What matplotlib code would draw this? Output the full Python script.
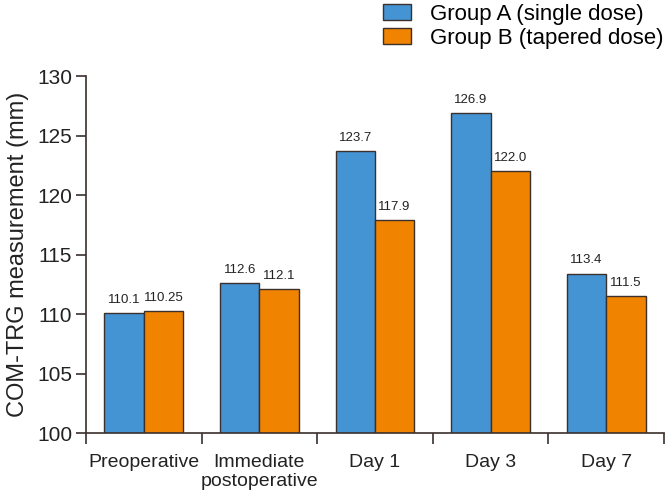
import numpy as np
import matplotlib
matplotlib.use('Agg')
import matplotlib.pyplot as plt

plt.rcParams['font.family'] = ['Liberation Sans', 'DejaVu Sans']

categories = ["Preoperative", "Immediate\npostoperative", "Day 1", "Day 3", "Day 7"]
group_a = [110.1, 112.6, 123.7, 126.9, 113.4]
group_b = [110.25, 112.1, 117.9, 122.0, 111.5]
labels_a = ["110.1", "112.6", "123.7", "126.9", "113.4"]
labels_b = ["110.25", "112.1", "117.9", "122.0", "111.5"]

blue = "#4494d4"
orange = "#f08300"
dark = "#3b302c"

fig = plt.figure(figsize=(6.66, 4.91), dpi=100)
ax = fig.add_axes([0.129, 0.118, 0.868, 0.727])

x = np.arange(len(categories))
w = 0.34
ba = ax.bar(x - w / 2, group_a, w, color=blue, edgecolor=dark, linewidth=1.0,
            label="Group A (single dose)")
bb = ax.bar(x + w / 2, group_b, w, color=orange, edgecolor=dark, linewidth=1.0,
            label="Group B (tapered dose)")

for xi, v, t in zip(x - w / 2, group_a, labels_a):
    ax.text(xi, v + 0.6, t, ha="center", va="bottom", fontsize=9.5, color="#222222")
for xi, v, t in zip(x + w / 2, group_b, labels_b):
    ax.text(xi, v + 0.6, t, ha="center", va="bottom", fontsize=9.5, color="#222222")

ax.set_ylim(100, 130)
ax.set_xlim(-0.5, 4.5)
ax.set_yticks(range(100, 131, 5))
ax.set_xticks(np.arange(-0.5, 4.6, 1.0))
ax.set_xticklabels([])
ax.set_xticks(x, minor=True)
ax.set_xticklabels(categories, minor=True, fontsize=14, color="#222222", linespacing=1.15)
ax.tick_params(axis="x", which="minor", length=0, pad=15)
ax.tick_params(axis="x", which="major", length=8, width=1.2, color=dark)
ax.tick_params(axis="y", length=7, width=1.2, color=dark, labelsize=15, labelcolor="#222222", pad=3)
for s in ["top", "right"]:
    ax.spines[s].set_visible(False)
for s in ["left", "bottom"]:
    ax.spines[s].set_color(dark)
    ax.spines[s].set_linewidth(1.2)

ax.set_ylabel("COM-TRG measurement (mm)", fontsize=17, color="#222222", labelpad=6)

fig.legend(handles=[ba, bb], loc="upper right", bbox_to_anchor=(1.0, 0.997), frameon=False,
           fontsize=16, handlelength=1.3, handleheight=0.7, handletextpad=0.85,
           labelspacing=0.15, borderaxespad=0.0, borderpad=0.1)

fig.savefig("out.png", dpi=100)
